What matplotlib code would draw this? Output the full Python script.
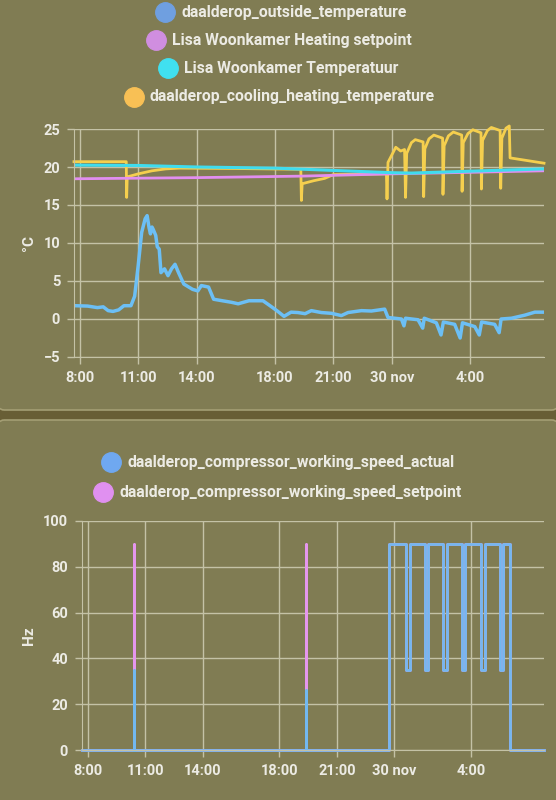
import matplotlib.pyplot as plt
from matplotlib.patches import FancyBboxPatch
from matplotlib.lines import Line2D

plt.rcParams['font.family'] = ['Roboto', 'DejaVu Sans']

# time axis in hours from midnight 29 nov (24 = 30 nov 0:00)
outside_h = [7.73, 8.4, 8.9, 9.2, 9.45, 9.7, 9.99, 10.26, 10.62, 10.81, 10.99, 11.17,
             11.35, 11.45, 11.55, 11.62, 11.7, 11.76, 11.89, 11.97, 12.07, 12.16, 12.34,
             12.52, 12.7, 12.88, 13.06, 13.33, 13.78, 14.05, 14.23, 14.6, 14.86, 15.31,
             15.77, 16.12, 16.67, 17.39, 17.75, 18.1, 18.47, 18.83, 19.18, 19.55, 19.87,
             20.38, 20.9, 21.41, 21.75, 22.44, 22.95, 23.63, 23.8, 24.49, 24.62, 24.7,
             25.34, 25.58, 25.66, 26.28, 26.52, 26.64, 27.22, 27.5, 27.62, 28.25, 28.48,
             28.6, 29.27, 29.5, 29.6, 30.13, 30.81, 31.33, 31.8]
outside_t = [1.75, 1.7, 1.5, 1.6, 1.1, 1.0, 1.2, 1.75, 1.75, 3.0, 7.0, 11.4,
             13.2, 13.6, 12.0, 11.2, 12.1, 11.8, 11.0, 9.5, 9.2, 6.1, 6.6,
             5.7, 6.6, 7.2, 6.1, 4.6, 3.9, 3.7, 4.4, 4.2, 2.6, 2.4,
             2.2, 2.0, 2.4, 2.4, 1.75, 1.1, 0.35, 0.9, 0.85, 0.7, 1.1,
             0.85, 0.75, 0.45, 0.85, 1.1, 1.05, 1.3, 0.2, 0.0, -0.9, 0.1,
             -0.1, -1.2, 0.1, -0.5, -2.1, -0.4, -0.7, -2.5, -0.5, -1.0, -2.1,
             -0.4, -0.7, -1.8, 0.0, 0.1, 0.5, 0.9, 0.9]

setpoint_h = [7.7, 14, 19.4, 24, 28, 31.8]
setpoint_t = [18.45, 18.6, 18.8, 19.1, 19.3, 19.5]

room_h = [7.7, 11, 14, 18, 21, 24, 25, 28, 31.8]
room_t = [20.25, 20.2, 20.0, 19.85, 19.55, 19.25, 19.2, 19.45, 19.75]

flow_h = [7.7, 10.38, 10.4, 10.43, 11.0, 11.7, 12.4, 13.1, 16, 19.33, 19.36, 19.4,
          20.0, 20.55, 21.0, 23.72, 23.75, 23.8, 24.0, 24.2, 24.45, 24.65, 24.7,
          24.76, 25.0, 25.2, 25.6, 25.63, 25.69, 25.9, 26.15, 26.6, 26.62, 26.68,
          26.9, 27.15, 27.58, 27.6, 27.66, 27.9, 28.15, 28.57, 28.59, 28.65, 28.9,
          29.1, 29.55, 29.58, 29.64, 29.85, 30.02, 30.06, 31.8]
flow_t = [20.7, 20.7, 16.0, 18.7, 19.1, 19.5, 19.75, 19.85, 19.8, 19.7, 15.6, 17.8,
          18.2, 18.5, 19.0, 19.1, 15.8, 20.6, 21.6, 22.6, 22.1, 22.3, 16.0,
          21.8, 23.2, 23.6, 23.3, 16.1, 22.4, 23.7, 24.2, 23.8, 16.4, 22.8,
          24.1, 24.6, 24.2, 16.8, 23.2, 24.4, 24.9, 24.5, 17.1, 23.5, 24.8,
          25.2, 24.8, 17.2, 23.8, 25.1, 25.4, 21.2, 20.5]

# compressor: two short starts on the 29th, cycling run on 30 nov
spike_h = [10.4, 19.36]
spike_setpoint = [90, 90]
spike_actual = [35, 26]
run_start, run_end = 23.73, 30.03
run_level = 90
run_first_actual = 55
dip_h = [24.62, 25.58, 26.55, 27.52, 28.53, 29.49]
dip_level = 35

tick_hours = [8, 11, 14, 18, 21, 24, 28]
tick_labels = ['8:00', '11:00', '14:00', '18:00', '21:00', '30 nov', '4:00']
temp_ticks = [-5, 0, 5, 10, 15, 20, 25]
hz_ticks = [0, 20, 40, 60, 80, 100]

t0, t1 = 7.7, 31.8


def compressor(spike_vals, first):
    h, v = [t0], [0]
    for s, val in zip(spike_h, spike_vals):
        h += [s, s, s + 0.03, s + 0.03]
        v += [0, val, val, 0]
    h += [run_start, run_start]
    v += [0, first]
    if first != run_level:
        h += [run_start + 0.01, run_start + 0.01]
        v += [first, run_level]
    for d in dip_h:
        h += [d, d, d + 0.17, d + 0.17]
        v += [run_level, dip_level, dip_level, run_level]
    h += [run_end, run_end, t1]
    v += [run_level, 0, 0]
    return h, v


W, H = 556, 800
card = '#807c53'
gap = '#685e35'
grid = '#c4c2a6'
txt = '#ecebe4'

fig = plt.figure(figsize=(W / 100, H / 100), dpi=100, facecolor=gap)


def fx(x):
    return x / W


def fy(y):
    return 1 - y / H


for top, bot in [(-20, 410), (420, 820)]:
    fig.patches.append(FancyBboxPatch((fx(-4), fy(bot)), fx(564), (bot - top) / H,
                                      boxstyle='round,pad=0,rounding_size=0.015',
                                      transform=fig.transFigure, facecolor=card,
                                      edgecolor='#a49e74', lw=1.2, zorder=-10))


def legend_row(y, xc, text, color, fs):
    fig.add_artist(Line2D([fx(xc)], [fy(y)], marker='o', ms=14, color=color,
                          mec=color, transform=fig.transFigure))
    fig.text(fx(xc + 16), fy(y), text, color=txt, fontsize=fs, fontweight='bold',
             ha='left', va='center')


legend_row(12, 165, 'daalderop_outside_temperature', '#6f9fe0', 11.3)
legend_row(40, 156, 'Lisa Woonkamer Heating setpoint', '#d08ee0', 11.3)
legend_row(68, 168, 'Lisa Woonkamer Temperatuur', '#40e0f0', 11.3)
legend_row(97, 134, 'daalderop_cooling_heating_temperature', '#f8c055', 11.3)

legend_row(462, 111, 'daalderop_compressor_working_speed_actual', '#6fa8f0', 11.3)
legend_row(492, 103, 'daalderop_compressor_working_speed_setpoint', '#e090f0', 11.3)


def style(ax):
    ax.set_facecolor('none')
    ax.set_xlim(t0, t1)
    ax.set_xticks(tick_hours)
    ax.set_xticklabels(tick_labels)
    ax.grid(color=grid, lw=1)
    ax.set_axisbelow(True)
    for s in ['top', 'right']:
        ax.spines[s].set_visible(False)
    for s in ['left', 'bottom']:
        ax.spines[s].set_color(grid)
    ax.tick_params(colors=grid, labelcolor=txt, length=5, width=1, labelsize=10.5,
                   pad=5)
    for lab in ax.get_xticklabels() + ax.get_yticklabels():
        lab.set_fontweight('bold')


ax1 = fig.add_axes([fx(74), fy(357), fx(544 - 74), (357 - 129) / H])
ax1.plot(flow_h, flow_t, color='#f5cf4e', lw=2.0, clip_on=False)
ax1.plot(setpoint_h, setpoint_t, color='#e28ef0', lw=2.0)
ax1.plot(room_h, room_t, color='#3fdcee', lw=2.2)
ax1.plot(outside_h, outside_t, color='#6cbff5', lw=2.5)
ax1.set_ylim(-5, 25)
ax1.set_yticks(temp_ticks)
style(ax1)
ax1.set_ylabel('°C', color=txt, fontsize=11, fontweight='bold', labelpad=5)

ax2 = fig.add_axes([fx(82), fy(750), fx(544 - 82), (750 - 521) / H])
sh, sv = compressor(spike_setpoint, run_level)
ah, av = compressor(spike_actual, run_first_actual)
ax2.plot(sh, sv, color='#e596ee', lw=1.9, clip_on=False)
ax2.plot(ah, av, color='#72b8f0', lw=1.9, clip_on=False)
ax2.set_ylim(0, 100)
ax2.set_yticks(hz_ticks)
style(ax2)
ax2.set_ylabel('Hz', color=txt, fontsize=11, fontweight='bold', labelpad=5)

fig.savefig('out.png', dpi=100, facecolor=gap)
